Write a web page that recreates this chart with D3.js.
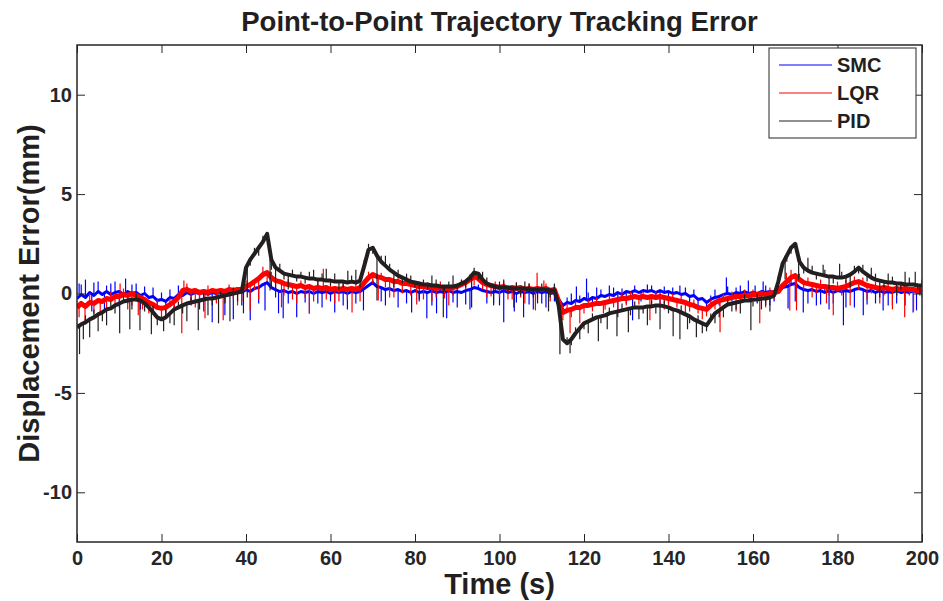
<!DOCTYPE html>
<meta charset="utf-8">
<style>
  body {
    margin: 0;
    padding: 0;
    background-color: #fff;
  }
  text {
    font-family: "Liberation Sans", Arial, sans-serif;
    font-weight: bold;
    fill: #231f20;
  }
  .title { font-size: 27.5px; }
  .axis-title { font-size: 29px; }
  .tick text { font-size: 20px; }
  .legend text { font-size: 20px; }
</style>
<script src="https://d3js.org/d3.v7.min.js"></script>
<body>
<div id="my_dataviz"></div>
<script>

// sampling grid, one sample per second
var time = d3.range(0, 201);

var xTicks = [0, 20, 40, 60, 80, 100, 120, 140, 160, 180, 200];
var yTicks = [-10, -5, 0, 5, 10];

var smc = [
  -0.25,-0.05,-0.2,0.05,-0.1,0.1,-0.05,0.1,-0.05,0.05,
  0.1,-0.05,0.1,0,0.05,-0.1,0,-0.2,-0.15,-0.35,
  -0.3,-0.4,-0.2,-0.25,-0.05,-0.1,0.05,-0.05,0.05,0,
  0.05,-0.05,0.05,0,0.05,0,0.1,0,0.1,0.05,
  0.2,0.1,0.25,0.3,0.45,0.55,0.3,0.2,0.1,0.15,
  0.05,0.1,0,0.1,0.05,0.1,0,0.1,0.05,0.1,
  0,0.1,0.05,0.1,0,0.1,0.05,0.1,0.25,0.4,
  0.55,0.35,0.3,0.2,0.25,0.15,0.2,0.1,0.15,0.05,
  0.15,0.05,0.1,0.05,0.15,0.05,0.1,0.05,0.15,0.05,
  0.1,0.05,0.15,0.2,0.3,0.25,0.15,0.1,0.05,0.1,
  0.05,0.15,0.05,0.1,0,0.1,0.05,0.1,0,0.1,
  0.05,0.1,0,0.05,-0.3,-0.6,-0.45,-0.5,-0.35,-0.4,
  -0.25,-0.35,-0.2,-0.25,-0.1,-0.15,-0.05,-0.1,0.05,-0.05,
  0.1,0.05,0.15,0.05,0.15,0.1,0.15,0.05,0.15,0.05,
  0.1,0,0.05,-0.05,0,-0.15,-0.1,-0.3,-0.25,-0.45,
  -0.3,-0.2,-0.15,-0.05,0,-0.05,0.05,0,0.1,0,
  0.05,0,0.1,0.05,0.1,0.05,0.1,0.3,0.35,0.45,
  0.5,0.3,0.2,0.15,0.2,0.1,0.15,0.05,0.15,0.05,
  0.15,0.1,0.15,0.1,0.2,0.25,0.2,0.1,0.15,0.05,
  0.15,0.05,0.1,0.05,0.15,0.05,0.1,0.05,0.15,0.05,
  0.1
];

var lqr = [
  -0.7,-0.5,-0.65,-0.45,-0.5,-0.35,-0.4,-0.25,-0.3,-0.15,
  -0.15,-0.05,-0.1,0,-0.1,-0.2,-0.3,-0.45,-0.55,-0.7,
  -0.75,-0.7,-0.55,-0.4,-0.2,0.15,0.2,0.1,0.15,0.05,
  0.1,0.05,0.15,0.1,0.15,0.1,0.2,0.15,0.2,0.2,
  0.35,0.45,0.6,0.75,0.95,1.05,0.8,0.65,0.6,0.5,
  0.45,0.4,0.35,0.4,0.3,0.35,0.25,0.3,0.25,0.3,
  0.2,0.25,0.2,0.25,0.2,0.25,0.2,0.3,0.55,0.8,
  0.95,0.85,0.8,0.7,0.7,0.6,0.6,0.5,0.5,0.45,
  0.4,0.35,0.35,0.3,0.3,0.25,0.3,0.25,0.25,0.3,
  0.35,0.45,0.55,0.7,0.85,0.75,0.55,0.45,0.4,0.35,
  0.3,0.35,0.25,0.3,0.25,0.3,0.2,0.25,0.2,0.25,
  0.2,0.25,0.15,0.2,-0.4,-0.95,-0.85,-0.8,-0.7,-0.7,
  -0.6,-0.6,-0.55,-0.5,-0.5,-0.45,-0.4,-0.35,-0.3,-0.25,
  -0.25,-0.2,-0.15,-0.2,-0.15,-0.2,-0.15,-0.2,-0.15,-0.2,
  -0.25,-0.3,-0.35,-0.4,-0.45,-0.55,-0.6,-0.7,-0.75,-0.8,
  -0.6,-0.45,-0.35,-0.3,-0.25,-0.2,-0.15,-0.15,-0.1,-0.1,
  -0.05,-0.05,0,-0.05,0,0.05,0.1,0.4,0.6,0.8,
  0.9,0.7,0.55,0.5,0.45,0.4,0.35,0.35,0.3,0.3,
  0.25,0.3,0.35,0.45,0.55,0.6,0.5,0.4,0.35,0.3,
  0.25,0.3,0.25,0.2,0.25,0.2,0.25,0.2,0.2,0.15,
  0.2
];

var pid = [
  -1.7,-1.55,-1.45,-1.3,-1.2,-1.05,-0.95,-0.8,-0.75,-0.6,
  -0.5,-0.4,-0.35,-0.3,-0.3,-0.35,-0.5,-0.7,-0.95,-1.2,
  -1.3,-1.2,-1,-0.8,-0.7,-0.6,-0.5,-0.45,-0.4,-0.35,
  -0.3,-0.25,-0.25,-0.2,-0.15,-0.1,-0.05,0,0.05,0.1,
  1.3,1.7,2,2.3,2.6,3,1.7,1.3,1.15,1,
  0.95,0.9,0.85,0.85,0.8,0.75,0.75,0.7,0.7,0.65,
  0.65,0.6,0.6,0.6,0.55,0.6,0.55,0.65,1.4,2.2,
  2.3,1.9,1.6,1.4,1.2,1.05,0.9,0.8,0.7,0.6,
  0.55,0.5,0.45,0.45,0.4,0.4,0.35,0.35,0.35,0.35,
  0.4,0.5,0.6,0.8,1.05,1,0.7,0.5,0.4,0.35,
  0.3,0.3,0.3,0.25,0.25,0.25,0.25,0.2,0.2,0.2,
  0.2,0.2,0.15,0.15,-0.6,-2.3,-2.5,-2.3,-2,-1.75,
  -1.5,-1.4,-1.3,-1.2,-1.15,-1.1,-1,-0.95,-0.9,-0.85,
  -0.8,-0.75,-0.7,-0.7,-0.7,-0.65,-0.65,-0.6,-0.6,-0.65,
  -0.7,-0.8,-0.85,-0.95,-1.05,-1.15,-1.3,-1.4,-1.5,-1.6,
  -1.3,-1,-0.85,-0.7,-0.55,-0.5,-0.45,-0.4,-0.35,-0.35,
  -0.3,-0.3,-0.25,-0.25,-0.2,-0.1,0.6,1.5,1.9,2.3,
  2.5,1.6,1.3,1.15,1.05,1,0.95,0.9,0.85,0.85,
  0.8,0.8,0.85,0.95,1.1,1.3,1.1,0.95,0.8,0.7,
  0.65,0.6,0.55,0.55,0.5,0.5,0.45,0.45,0.45,0.4,
  0.4
];

// noise spikes: [time, tip value]
var smcSpikes = [
  [0.5,0.5],[2,0.7],[3.5,-0.9],[5,0.6],[6.5,-0.8],[8,0.5],[10,-0.7],[11.5,0.75],[13,0.45],[15,-0.8],
  [18,0.3],[21,-1.0],[24,0.4],[27,-0.6],[30,-0.9],[32,-1.45],[35,-1.1],[37,-1.3],[41,-1.35],[44.5,-0.85],
  [47.7,-1.0],[48.8,-1.25],[52,-1.2],[55,-1.0],[58,-0.7],[61,-0.95],[64,-0.8],[67.8,-0.85],[73,-0.6],[76,-0.7],
  [79.2,-0.95],[82.8,-1.25],[85.1,-1.0],[87.5,-1.25],[90,-0.7],[93,-0.8],[98.6,-0.5],[101,-1.45],[103.5,-0.9],[105.7,-1.2],
  [108,-0.8],[111,-0.7],[118.2,0.35],[120.6,0.75],[123,0.3],[126,0.4],[128,-0.8],[131.5,-1.35],[135,0.45],[138,-0.7],
  [142.7,0.4],[146,0.2],[153.7,0.8],[156,0.3],[158.9,0.65],[162.4,0.6],[164,-0.6],[168.3,-0.75],[171.9,-0.95],[175,-0.6],
  [178,-0.8],[181.4,-1.6],[184,-0.7],[186.1,-1.1],[188,0.45],[190.8,-0.85],[193,-0.6],[197.9,-0.95],[198.7,-0.85],
  [1,0.45],[4,0.55],[7,0.4],[9,0.6],[12,-0.5],[14,0.5],[16,0.35],[19,-0.8],[20,0.05],[22,0.2],
  [23,-0.7],[26,0.35],[29,-0.5],[33,-0.4],[39,-0.6],[43,-0.5],[46,0.7],[50,-0.5],[54,-0.45],[57,-0.5],
  [60,-0.4],[63,-0.6],[66,-0.5],[70,0.7],[72,-0.4],[78,-0.5],[81,-0.4],[84,-0.6],[89,-0.45],[92,-0.55],
  [95,0.45],[97,-0.5],[100,-0.6],[104,-0.45],[107,-0.55],[110,-0.5],[113,-0.4],[114.5,-0.9],[116,-0.2],[117,0.0],
  [119,-0.1],[121,0.05],[122,-0.7],[124,0.2],[127,0.3],[129,0.25],[130,-0.5],[132,0.4],[133.5,-0.4],[136,0.4],
  [137,-0.3],[139,0.35],[140,-0.5],[141,0.3],[144,0.3],[145,-0.6],[147,-0.8],[149,-0.85],[150,-0.1],[151,0.2],
  [152,-0.6],[154,0.35],[155,-0.4],[157,0.4],[159.5,-0.45],[160.5,0.4],[161,-0.5],[163,0.4],[165,-0.4],[166,0.45],
  [169,0.9],[170,-0.4],[173,-0.5],[176,-0.55],[177,0.3],[179,-0.5],[180,0.35],[182,-0.7],[185,0.5],[187,-0.55],
  [189,-0.5],[191,0.35],[192,-0.6],[194,-0.5],[195,0.35],[196,-0.6],[199,0.4]
];

var lqrSpikes = [
  [1.9,-1.55],[4,-1.0],[7,-0.9],[10.2,0.5],[12,-0.8],[14.5,-1.1],[17,-1.0],[20,-1.2],[24.8,-2.0],[25.3,0.65],
  [28,-0.7],[30.3,-1.25],[34.6,-1.35],[38,-0.6],[41,-0.85],[43,-0.3],[48.4,-0.7],[52,-0.5],[55,-1.0],[58.3,1.25],
  [61,-0.5],[65.1,-0.95],[71.3,-0.35],[75,-0.2],[80.4,-0.55],[84,-0.4],[88,-0.6],[97,-0.2],[102,-0.3],[106,-0.5],
  [108.5,-0.85],[108.9,1.05],[110.5,0.65],[116.7,-2.0],[119,-1.5],[124.6,-1.0],[128,-0.9],[135.6,-1.35],[139,-0.8],[144,-1.1],
  [148,-1.3],[152.2,-1.95],[156,-0.9],[161.6,-1.5],[163,-0.7],[167.9,1.05],[168.7,-0.85],[170.3,-0.85],[174,-0.2],[177.4,-0.5],
  [179,-1.1],[183,-0.6],[187,-0.3],[190,-0.5],[193,-0.8],[195.9,-1.2],[198,-0.9],
  [0.5,-1.2],[3,0.0],[5.5,-0.9],[8,0.1],[9,-0.7],[11,0.25],[13,-0.6],[15.5,-0.8],[18,-1.05],[19,-0.3],
  [21,-1.15],[22,-0.25],[23,-0.9],[26,0.5],[27,-0.4],[29,-0.35],[31,0.4],[33,-0.5],[35,-0.45],[36,0.45],
  [37,-0.3],[39,-0.4],[40,0.65],[42,0.2],[44,1.35],[45,0.6],[46,1.1],[47,0.2],[49,-0.1],[50,0.7],
  [51,-0.3],[53,0.65],[54,-0.2],[56,-0.4],[57,0.6],[59,-0.3],[60,0.5],[62,-0.4],[63,0.5],[64,-0.3],
  [66,0.5],[67,-0.4],[69,1.1],[70,0.5],[72,1.05],[73,0.3],[74,-0.2],[76,0.9],[77,0.0],[79,-0.1],
  [81,0.6],[82,-0.3],[83,0.55],[85,-0.2],[86,0.6],[87,-0.25],[89,-0.1],[91,0.7],[92,0.2],[93,0.95],
  [94,0.4],[95,1.0],[96,0.2],[98,-0.15],[99,0.6],[100,-0.2],[101,0.6],[103,-0.3],[104,0.55],[105,-0.2],
  [107,0.5],[109,-0.3],[111,0.5],[112,-0.4],[113,0.45],[115,-1.35],[116,-0.5],[117,-1.2],[118,-0.4],[120,-1.0],
  [121,-0.3],[122,-0.9],[123,-0.2],[125,-0.8],[126,-0.1],[127,-0.7],[129,0.05],[130,-0.6],[131,0.1],[133,-0.55],
  [134,0.1],[136,-0.5],[137,0.1],[138,-0.5],[140,-0.6],[141,0.0],[142,-0.7],[143,-0.1],[145,-0.9],[146,-0.3],
  [147,-1.0],[149,-1.15],[150,-0.3],[151,-0.8],[153,0.0],[154,-0.6],[155,0.1],[157,-0.5],[158,0.2],[159,-0.4],
  [160,0.2],[162,-0.35],[164,0.3],[165,-0.3],[166,0.4],[169,1.2],[170,0.4],[171,1.0],[172,0.2],[173,0.8],
  [175,0.0],[176,0.7],[178,-0.1],[180,0.6],[181,-0.1],[182,0.7],[184,0.85],[185,0.2],[186,0.8],[188,0.0],
  [189,0.6],[191,-0.1],[192,0.55],[194,-0.1],[195,0.5],[197,-0.1],[199,0.5],[200,-0.2]
];

var pidSpikes = [
  [0.6,-3.05],[1.5,-2.3],[3,-2.2],[5,-1.9],[7,-1.6],[10.1,-2.0],[12.5,-1.8],[14.9,-1.85],[17.6,-2.05],[20.5,-1.9],
  [23,-1.6],[26,-1.4],[28.7,-1.85],[31,-1.1],[33.5,-1.5],[36.2,-1.4],[39.4,-1.0],[40.3,-0.2],[45.7,0.15],[47,-0.2],
  [50,0.2],[56,1.2],[59,1.25],[62,0.2],[64.1,1.15],[66,1.2],[71,-0.35],[73,1.9],[75,0.3],[78,1.0],
  [81,-0.3],[84,0.9],[86.7,-1.2],[89,0.9],[93.4,-0.7],[96,1.1],[98.6,-0.6],[101,0.7],[103.4,-0.7],[106,0.6],
  [109,-0.5],[111.6,-0.9],[113,0.5],[114.3,-3.05],[116.7,-3.0],[119,-2.3],[121,-2.0],[123.4,-2.4],[125.5,-1.8],[127.8,-2.15],
  [130.5,-1.95],[133,-1.3],[135,-1.6],[138,-1.8],[141.1,-2.15],[142.7,-2.3],[144.5,-1.8],[146.6,-2.2],[148,-2.0],[151,-1.5],
  [153,-1.2],[155,-0.9],[157,-1.0],[159.5,-1.85],[162,-0.8],[164,-0.9],[167.6,0.7],[170.8,0.7],[173,1.8],[176.6,1.45],
  [178,0.2],[180.5,1.5],[183,0.3],[188,1.3],[190,-0.2],[192,1.0],[194,-0.1],[196,1.1],[198.4,1.1],[199.5,-0.1],
  [2,-1.1],[4,-0.8],[6,-1.4],[8,-0.4],[9,-1.0],[11,-0.1],[13,-0.8],[14,0.0],[16,-0.9],[18,-0.6],
  [19,-1.6],[21,-0.8],[22,-1.5],[24,-0.4],[25,-1.0],[27,-0.2],[29,-0.8],[30,0.0],[32,-0.6],[34,0.1],
  [35,-0.5],[37,0.3],[38,-0.4],[41,1.4],[42,2.3],[43,1.9],[44,2.9],[46,1.2],[48,1.5],[49,0.7],
  [51,1.2],[52,0.6],[53,1.1],[54,0.5],[55,1.1],[57,0.4],[58,1.0],[60,0.4],[61,1.0],[63,0.3],
  [65,0.9],[67,0.3],[68,1.7],[69,2.5],[70,2.0],[72,1.9],[74,1.5],[76,1.2],[77,0.5],[79,0.9],
  [80,0.3],[82,0.7],[83,0.2],[85,0.7],[87,0.1],[88,0.6],[90,0.1],[91,0.7],[92,0.3],[94,1.3],
  [95,0.7],[97,0.8],[99,0.1],[100,0.6],[102,0.0],[104,0.55],[105,-0.1],[107,0.5],[108,-0.2],[110,0.5],
  [112,-0.2],[115,-2.0],[116,-2.2],[117,-2.6],[118,-1.7],[120,-1.8],[122,-1.0],[124,-1.5],[126,-0.7],[128,-1.2],
  [129,-0.5],[131,-1.1],[132,-0.4],[134,-1.0],[136,-0.35],[137,-1.0],[139,-0.35],[140,-1.0],[143,-0.6],[145,-1.5],
  [147,-1.1],[149,-1.9],[150,-1.0],[152,-1.2],[154,-0.25],[156,-0.8],[158,-0.05],[160,-0.65],[161,0.0],[163,-0.6],
  [165,0.15],[166,0.9],[168,1.6],[169,2.0],[171,1.9],[172,1.0],[174,1.4],[175,0.7],[177,1.2],[179,0.5],
  [181,1.1],[182,0.5],[184,1.4],[185,1.0],[186,1.45],[187,0.6],[189,1.0],[191,0.3],[193,0.85],[195,0.2],
  [197,0.8],[199,0.15],[200,0.7]
];

var seriesNames = ["SMC", "LQR", "PID"];
var seriesColors = ["#0000ff", "#ff0000", "#231f20"];

// set the dimensions and margins of the graph
var margin = {top: 45, right: 21, bottom: 59, left: 77},
    width = 943 - margin.left - margin.right,
    height = 601 - margin.top - margin.bottom;

var root = d3.select("#my_dataviz")
  .append("svg")
    .attr("width", 943)
    .attr("height", 601);

var svg = root.append("g")
    .attr("transform", "translate(" + margin.left + "," + margin.top + ")");

var x = d3.scaleLinear().domain([0, 200]).range([0, width]);
var y = d3.scaleLinear().domain([-12.5, 12.5]).range([height, 0]);

svg.append("clipPath")
    .attr("id", "plotclip")
  .append("rect")
    .attr("width", width)
    .attr("height", height);

var plot = svg.append("g").attr("clip-path", "url(#plotclip)");

var line = d3.line()
  .x(function(d, i) { return x(time[i]); })
  .y(function(d) { return y(d); });

var series = [
  {values: smc, spikes: smcSpikes, width: 3},
  {values: lqr, spikes: lqrSpikes, width: 5},
  {values: pid, spikes: pidSpikes, width: 4}
];

series.forEach(function(s, k) {
  var g = plot.append("g");
  g.selectAll("line")
    .data(s.spikes)
    .enter()
    .append("line")
      .attr("x1", function(d) { return x(d[0]); })
      .attr("x2", function(d) { return x(d[0]); })
      .attr("y1", function(d) { return y(s.values[Math.round(d[0])]); })
      .attr("y2", function(d) { return y(d[1]); })
      .style("stroke", seriesColors[k])
      .style("stroke-width", 1.2);
  g.append("path")
    .datum(s.values)
    .attr("d", line)
    .style("fill", "none")
    .style("stroke", seriesColors[k])
    .style("stroke-width", s.width)
    .style("stroke-linejoin", "round");
});

// axes, ticks pointing inwards like matlab
var axisColor = "#262626";
function styleAxis(g) {
  g.select(".domain").remove();
  g.selectAll(".tick line").style("stroke", axisColor).style("stroke-width", 1);
  g.selectAll(".tick text").style("fill", axisColor);
}
var plain = function(d) { return String(d); };

svg.append("g")
  .attr("transform", "translate(0," + height + ")")
  .call(d3.axisBottom(x).tickValues(xTicks).tickFormat(plain).tickSizeInner(-8).tickSizeOuter(0).tickPadding(9))
  .call(styleAxis);

svg.append("g")
  .call(d3.axisTop(x).tickValues(xTicks).tickSizeInner(-8).tickSizeOuter(0).tickFormat(""))
  .call(styleAxis);

svg.append("g")
  .call(d3.axisLeft(y).tickValues(yTicks).tickFormat(plain).tickSizeInner(-8).tickSizeOuter(0).tickPadding(5))
  .call(styleAxis);

svg.append("g")
  .attr("transform", "translate(" + width + ",0)")
  .call(d3.axisRight(y).tickValues(yTicks).tickSizeInner(-8).tickSizeOuter(0).tickFormat(""))
  .call(styleAxis);

// plot frame
svg.append("rect")
  .attr("width", width)
  .attr("height", height)
  .style("fill", "none")
  .style("stroke", axisColor)
  .style("stroke-width", 1.5);

// legend
var legend = svg.append("g")
  .attr("class", "legend")
  .attr("transform", "translate(" + (width - 153) + ",3)");

legend.append("rect")
  .attr("width", 147)
  .attr("height", 90)
  .style("fill", "#fff")
  .style("stroke", axisColor)
  .style("stroke-width", 1);

seriesNames.forEach(function(name, i) {
  var row = legend.append("g").attr("transform", "translate(0," + (17 + i * 28) + ")");
  row.append("line")
    .attr("x1", 10).attr("x2", 63)
    .style("stroke", seriesColors[i])
    .style("stroke-width", 1);
  row.append("text")
    .attr("x", 68)
    .attr("dy", "0.35em")
    .text(name);
});

// titles
root.append("text")
  .attr("class", "title")
  .attr("x", margin.left + width / 2)
  .attr("y", 31)
  .attr("text-anchor", "middle")
  .text("Point-to-Point Trajectory Tracking Error");

root.append("text")
  .attr("class", "axis-title")
  .attr("x", margin.left + width / 2)
  .attr("y", 594)
  .attr("text-anchor", "middle")
  .text("Time (s)");

root.append("text")
  .attr("class", "axis-title")
  .attr("transform", "rotate(-90)")
  .attr("x", -(margin.top + height / 2))
  .attr("y", 39)
  .attr("text-anchor", "middle")
  .text("Displacement Error(mm)");

</script>
</body>
